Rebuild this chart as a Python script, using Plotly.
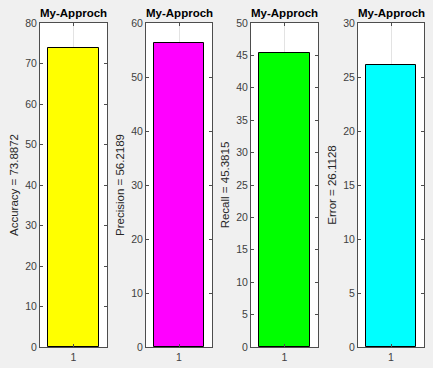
import plotly.graph_objects as go

categories = ["1"]
metric_names = ["Accuracy", "Precision", "Recall", "Error"]
metric_values = [73.8872, 56.2189, 45.3815, 26.1128]
bar_colors = ["#ffff00", "#ff00ff", "#00ff00", "#00ffff"]
y_max = [80, 60, 50, 30]
y_step = [10, 10, 5, 5]
title_text = "My-Approch"

W, H = 433, 368
x_px = [(40, 107), (146, 212), (251, 318), (358, 424)]
top_px, bot_px = 23, 347

fig = go.Figure()
axis_col = "#4d4d4d"
font_fam = "Liberation Sans, Arial, sans-serif"

annotations = []
for i in range(4):
    sfx = "" if i == 0 else str(i + 1)
    fig.add_trace(go.Bar(
        x=[1], y=[metric_values[i]], width=0.76,
        marker=dict(color=bar_colors[i], line=dict(color="#000000", width=1)),
        xaxis="x" + sfx, yaxis="y" + sfx, showlegend=False,
    ))
    x0, x1 = x_px[i]
    fig.layout["xaxis" + sfx] = dict(
        domain=[x0 / W, x1 / W], range=[0.5, 1.5], anchor="y" + sfx,
        tickvals=[1], ticktext=categories, ticks="inside", ticklen=3,
        tickcolor=axis_col, showline=True, linecolor=axis_col, linewidth=1,
        mirror="ticks", showgrid=True, gridcolor="#e3e3e3", gridwidth=1,
        zeroline=False, fixedrange=True, automargin=False,
        tickfont=dict(family=font_fam, size=10.5, color="#404040"),
    )
    fig.layout["yaxis" + sfx] = dict(
        domain=[1 - bot_px / H, 1 - top_px / H], range=[0, y_max[i]],
        anchor="x" + sfx, dtick=y_step[i], tick0=0, ticks="inside", ticklen=3,
        tickcolor=axis_col, showline=True, linecolor=axis_col, linewidth=1,
        mirror="ticks", showgrid=False, zeroline=False, automargin=False,
        tickfont=dict(family=font_fam, size=10.5, color="#404040"),
        title=dict(text=f"{metric_names[i]} = {metric_values[i]:g}",
                   font=dict(family=font_fam, size=11.5, color="#262626"),
                   standoff=4),
    )
    annotations.append(dict(
        text="<b>" + title_text + "</b>", x=(x0 + x1) / 2 / W, y=1 - 13 / H,
        xref="paper", yref="paper", showarrow=False, xanchor="center",
        yanchor="middle", font=dict(family=font_fam, size=11.5, color="#000000"),
    ))

fig.update_layout(
    width=W, height=H, margin=dict(l=0, r=0, t=0, b=0, autoexpand=False),
    paper_bgcolor="#f0f0f0", plot_bgcolor="#ffffff",
    annotations=annotations, bargap=0,
)
fig.write_html("out.html", config={"displayModeBar": False},
               post_script="document.body.style.margin='0';document.body.style.background='#f0f0f0';")
